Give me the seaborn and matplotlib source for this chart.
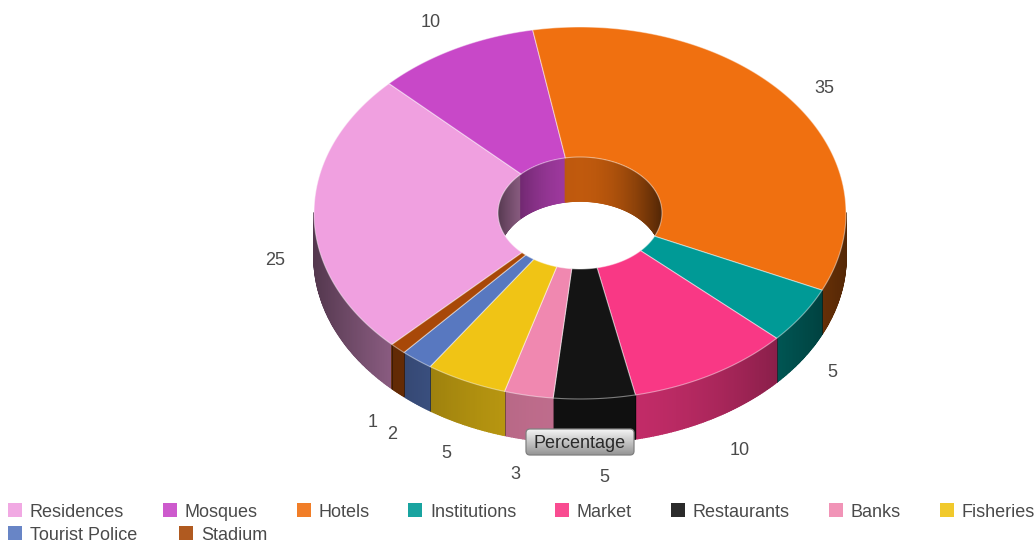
import numpy as np
import matplotlib
matplotlib.use("Agg")
import matplotlib.pyplot as plt
from matplotlib.collections import PolyCollection
from matplotlib.patches import Ellipse, FancyBboxPatch, Patch
import seaborn as sns

# Share of each establishment type, in percent
categories = ["Residences", "Mosques", "Hotels", "Institutions", "Market",
              "Restaurants", "Banks", "Fisheries", "Tourist Police", "Stadium"]
percentages = [25, 10, 35, 5, 10, 5, 3, 5, 2, 1]
slice_colors = ["#F0A0E0", "#C848C8", "#F07010", "#009A96", "#F93885",
                "#141414", "#F088B0", "#F0C415", "#5878C0", "#A84808"]
button_label = "Percentage"

# Small per-label shifts (x, y) so the numbers clear the rim
label_shifts = [(6, 2), (-3, 2), (-1, 9), (-7, -4), (5, 5),
                (7, 3), (-5, 4), (0, 0), (3, 6), (6, 7)]

# Ring geometry, in pixels of the canvas
CX, CY = 580, 213
RX, RY = 266, 186
HOLE_RX, HOLE_RY = 82, 56
DEPTH = 44
START_DEG = -135
LABEL_SCALE = 1.17
TEXT_COLOR = "#4a4a4a"

sns.set_theme(style="white")
plt.rcParams["font.family"] = ["Liberation Sans", "DejaVu Sans"]

palette = sns.color_palette(slice_colors)
values = np.asarray(percentages, dtype=float)
spans = values / values.sum() * 360
starts = START_DEG + np.concatenate(([0], np.cumsum(spans)[:-1]))

fig = plt.figure(figsize=(10.36, 5.44), dpi=100, facecolor="white")
ax = fig.add_axes([0, 0, 1, 1])
ax.set_xlim(0, 1036)
ax.set_ylim(544, 0)
ax.axis("off")


def ring_point(deg, rx, ry, offset=0.0):
    rad = np.radians(deg)
    return CX + rx * np.sin(rad), CY - ry * np.cos(rad) + offset


def wall_cells(a0, a1, rx, ry, keep_front):
    """Quads of a cylinder wall between two angles, with a shade per quad."""
    grid = np.linspace(a0, a1, max(int((a1 - a0) * 2), 2) + 1)
    cells, shades = [], []
    for t0, t1 in zip(grid[:-1], grid[1:]):
        facing = -np.cos(np.radians((t0 + t1) / 2))
        if not keep_front:
            facing = -facing
        if facing <= 0:
            continue
        x0, y0 = ring_point(t0, rx, ry)
        x1, y1 = ring_point(t1, rx, ry)
        cells.append([(x0, y0), (x1, y1), (x1, y1 + DEPTH), (x0, y0 + DEPTH)])
        shades.append(0.35 + 0.45 * facing ** 2)
    return cells, shades


def add_wall(a0, a1, color, rx, ry, keep_front, clip=None):
    cells, shades = wall_cells(a0, a1, rx, ry, keep_front)
    if not cells:
        return
    faces = [tuple(c * s for c in color) for s in shades]
    coll = PolyCollection(cells, facecolors=faces, edgecolors=faces,
                          linewidths=1.1, zorder=2)
    ax.add_collection(coll)
    if clip is not None:
        coll.set_clip_path(clip)


# Outer wall along the front of the ring
for a0, span, color in zip(starts, spans, palette):
    add_wall(a0, a0 + span, color, RX, RY, keep_front=True)
    for edge in (a0, a0 + span):
        if -np.cos(np.radians(edge)) > 0:
            x, y = ring_point(edge, RX, RY)
            ax.plot([x, x], [y, y + DEPTH], color=(0, 0, 0, 0.2), lw=0.7, zorder=2.5)

# Inner wall seen through the hole
hole = Ellipse((CX, CY), 2 * HOLE_RX, 2 * HOLE_RY, facecolor="white",
               edgecolor="none", zorder=1, transform=ax.transData)
ax.add_patch(hole)
for a0, span, color in zip(starts, spans, palette):
    add_wall(a0, a0 + span, color, HOLE_RX, HOLE_RY, keep_front=False, clip=hole)

# Top face of every slice
for a0, span, color in zip(starts, spans, palette):
    grid = np.linspace(a0, a0 + span, max(int(span * 2), 2) + 1)
    ox, oy = ring_point(grid, RX, RY)
    ix, iy = ring_point(grid[::-1], HOLE_RX, HOLE_RY)
    ax.fill(np.r_[ox, ix], np.r_[oy, iy], facecolor=color,
            edgecolor=(1, 1, 1, 0.45), linewidth=0.8, joinstyle="round", zorder=3)

# Value labels beyond the rim; the lower half sits below the wall
for a0, span, value, (dx, dy) in zip(starts, spans, percentages, label_shifts):
    mid = a0 + span / 2
    x, y = ring_point(mid, RX * LABEL_SCALE, RY * LABEL_SCALE)
    if -np.cos(np.radians(mid)) > -0.05:
        y += DEPTH
    ax.text(x + dx, y + dy, str(value), fontsize=13, color=TEXT_COLOR,
            ha="center", va="center", zorder=4)

# Series button over the front of the ring
btn_x, btn_y, btn_w, btn_h = 526, 429, 108, 26
ramp = np.linspace(0.96, 0.58, 64).reshape(-1, 1)
shine = ax.imshow(ramp, cmap="gray", vmin=0, vmax=1, aspect="auto",
                  extent=(btn_x, btn_x + btn_w, btn_y + btn_h, btn_y), zorder=5)
frame = FancyBboxPatch((btn_x + 3, btn_y + 3), btn_w - 6, btn_h - 6,
                       boxstyle="round,pad=3,rounding_size=4",
                       facecolor="none", edgecolor="#808080", linewidth=0.9, zorder=6)
ax.add_patch(frame)
shine.set_clip_path(frame)
ax.set_xlim(0, 1036)
ax.set_ylim(544, 0)
ax.text(btn_x + btn_w / 2, btn_y + btn_h / 2 + 1, button_label, fontsize=13,
        color="#2a2a2a", ha="center", va="center", zorder=7)

# Legend rows: eight entries above, the remaining two below
handles = [Patch(facecolor=c, edgecolor="none", alpha=0.9, label=n)
           for c, n in zip(palette, categories)]
legend_style = dict(frameon=False, fontsize=13, labelcolor=TEXT_COLOR,
                    handlelength=0.78, handleheight=0.78, handletextpad=0.42,
                    borderpad=0, borderaxespad=0,
                    loc="center left", bbox_transform=ax.transData)
top_row = ax.legend(handles=handles[:8], ncols=8, bbox_to_anchor=(8, 512),
                    columnspacing=2.16, **legend_style)
ax.add_artist(top_row)
ax.legend(handles=handles[8:], ncols=2, bbox_to_anchor=(8, 535),
          columnspacing=2.35, **legend_style)

fig.savefig("out.png", dpi=100, facecolor="white")
